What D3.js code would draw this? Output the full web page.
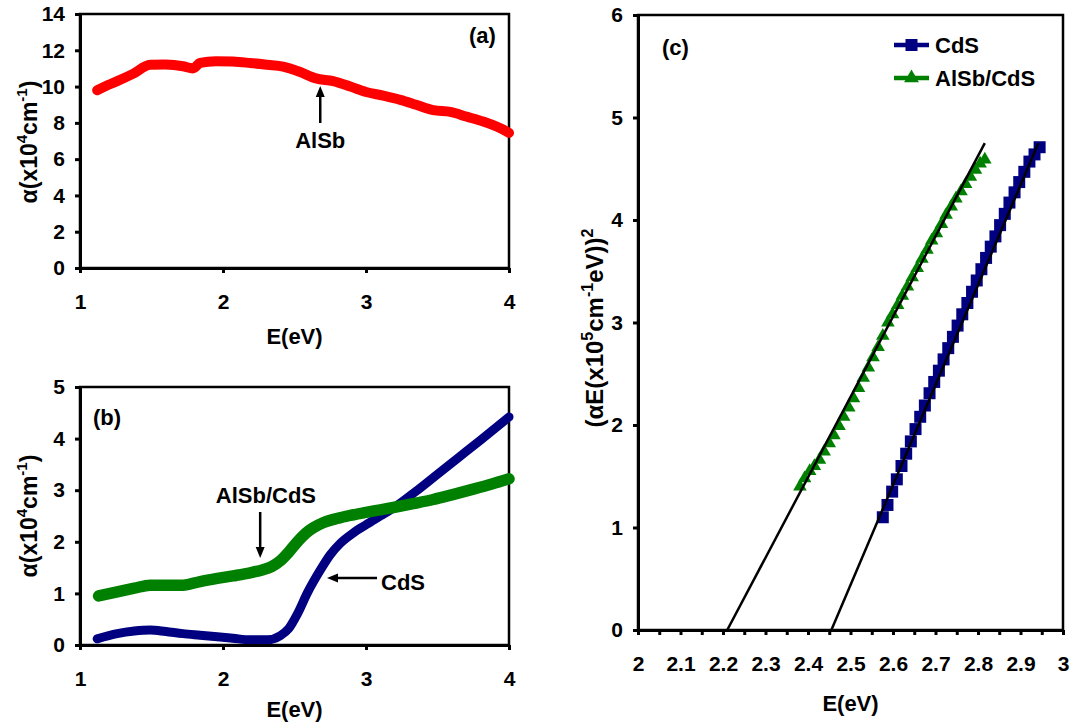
<!DOCTYPE html>
<html>
<head>
<meta charset="utf-8">
<script src="https://cdn.jsdelivr.net/npm/d3@7"></script>
<style>
	body { margin: 0; background: #fff; }
	text { font-family: "Liberation Sans", Arial, sans-serif; font-weight: bold; fill: #000; }
</style>
</head>
<body>
<svg id="chart" width="1070" height="724"></svg>
<script>
// (a) absorption of AlSb
var energyA = [1.12, 1.2, 1.26, 1.37, 1.49, 1.6, 1.72, 1.76, 1.79, 1.84, 1.95, 2.07, 2.19, 2.31, 2.42, 2.54, 2.65, 2.77, 2.89, 3.0, 3.12, 3.24, 3.35, 3.47, 3.59, 3.7, 3.82, 3.94, 4.0];
var alphaAlSb = [9.8, 10.1, 10.3, 10.7, 11.2, 11.22, 11.12, 11.05, 11.0, 11.3, 11.4, 11.38, 11.3, 11.2, 11.1, 10.8, 10.45, 10.3, 10.0, 9.7, 9.5, 9.27, 9.0, 8.7, 8.6, 8.35, 8.07, 7.7, 7.45];

// (b) AlSb/CdS and CdS
var energyB = [1.13, 1.26, 1.38, 1.49, 1.6, 1.72, 1.84, 1.96, 2.07, 2.19, 2.28, 2.34, 2.4, 2.46, 2.52, 2.58, 2.63, 2.7, 2.78, 2.87, 3.0, 3.1, 3.2, 3.33, 3.47, 3.6, 3.75, 3.88, 4.0];
var alphaAlSbCdS = [0.95, 1.03, 1.1, 1.16, 1.16, 1.16, 1.23, 1.29, 1.34, 1.4, 1.46, 1.52, 1.63, 1.8, 2.0, 2.17, 2.27, 2.37, 2.44, 2.5, 2.57, 2.62, 2.67, 2.74, 2.82, 2.91, 3.02, 3.12, 3.22];
var energyCdS = [1.12, 1.26, 1.38, 1.49, 1.6, 1.72, 1.84, 1.96, 2.07, 2.19, 2.31, 2.4, 2.46, 2.52, 2.59, 2.68, 2.75, 2.82, 2.91, 3.0, 3.1, 3.2, 3.35, 3.5, 3.65, 3.8, 4.0];
var alphaCdS = [0.12, 0.22, 0.27, 0.29, 0.26, 0.22, 0.19, 0.16, 0.13, 0.1, 0.1, 0.18, 0.32, 0.6, 1.01, 1.45, 1.75, 1.97, 2.17, 2.33, 2.5, 2.67, 2.98, 3.31, 3.64, 3.97, 4.42];

// (c) Tauc plot
var taucCdSE = [2.576, 2.587, 2.598, 2.609, 2.620, 2.631, 2.642, 2.653, 2.664, 2.675, 2.686, 2.697, 2.708, 2.719, 2.730, 2.741, 2.752, 2.763, 2.775, 2.786, 2.797, 2.808, 2.819, 2.830, 2.841, 2.852, 2.863, 2.874, 2.886, 2.897, 2.909, 2.921, 2.933, 2.945];
var taucCdSY = [1.10, 1.22, 1.35, 1.47, 1.60, 1.72, 1.84, 1.96, 2.08, 2.19, 2.31, 2.42, 2.53, 2.64, 2.75, 2.86, 2.97, 3.08, 3.19, 3.30, 3.41, 3.52, 3.63, 3.74, 3.84, 3.95, 4.06, 4.17, 4.27, 4.37, 4.47, 4.57, 4.64, 4.71];
var taucAlSbCdSE = [2.381, 2.392, 2.404, 2.415, 2.427, 2.438, 2.450, 2.461, 2.473, 2.484, 2.496, 2.507, 2.519, 2.530, 2.542, 2.553, 2.565, 2.576, 2.588, 2.599, 2.611, 2.622, 2.634, 2.645, 2.657, 2.668, 2.680, 2.691, 2.702, 2.714, 2.725, 2.737, 2.748, 2.760, 2.771, 2.782, 2.794, 2.805, 2.816];
var taucAlSbCdSY = [1.40, 1.48, 1.55, 1.60, 1.66, 1.74, 1.82, 1.90, 1.99, 2.08, 2.17, 2.26, 2.36, 2.46, 2.56, 2.66, 2.76, 2.87, 3.00, 3.08, 3.17, 3.26, 3.35, 3.44, 3.53, 3.62, 3.71, 3.80, 3.87, 3.96, 4.05, 4.13, 4.21, 4.28, 4.35, 4.42, 4.49, 4.55, 4.59];
// linear fits, [E, y] end points
var fitCdS = [[2.455, 0], [2.942, 4.75]];
var fitAlSbCdS = [[2.21, 0], [2.816, 4.75]];

var ticksA = [0, 2, 4, 6, 8, 10, 12, 14];
var ticksB = [0, 1, 2, 3, 4, 5];
var ticksC = [0, 1, 2, 3, 4, 5, 6];
var ticksE = [1, 2, 3, 4];
var ticksTauc = [2, 2.1, 2.2, 2.3, 2.4, 2.5, 2.6, 2.7, 2.8, 2.9, 3];
var minorTauc = [2.05, 2.15, 2.25, 2.35, 2.45, 2.55, 2.65, 2.75, 2.85, 2.95];

var RED = '#ff0000', NAVY = '#000080', GREEN = '#008000';

var svg = d3.select('#chart');

function makePanel(box, xDomain, yDomain) {
	var x = d3.scaleLinear().domain(xDomain).range([box.left, box.right]);
	var y = d3.scaleLinear().domain(yDomain).range([box.bottom, box.top]);
	var g = svg.append('g');
	g.append('rect')
		.attr('x', box.left).attr('y', box.top)
		.attr('width', box.right - box.left).attr('height', box.bottom - box.top)
		.attr('fill', 'none').attr('stroke', '#000').attr('stroke-width', 2.5);
	var data = g.append('g');
	return { x: x, y: y, g: g, data: data, box: box };
}

function drawAxes(p, xTicks, yTicks, xFmt) {
	var xa = p.g.append('g')
		.attr('transform', 'translate(0,' + p.box.bottom + ')')
		.call(d3.axisBottom(p.x).tickValues(xTicks).tickFormat(xFmt || d3.format('d'))
			.tickSize(5).tickSizeOuter(0).tickPadding(21));
	var ya = p.g.append('g')
		.attr('transform', 'translate(' + p.box.left + ',0)')
		.call(d3.axisLeft(p.y).tickValues(yTicks).tickFormat(d3.format('d'))
			.tickSize(5).tickSizeOuter(0).tickPadding(10));
	[xa, ya].forEach(function(a) {
		a.select('.domain').attr('stroke', '#000').attr('stroke-width', 3);
		a.selectAll('.tick line').attr('stroke', '#000').attr('stroke-width', 3);
		a.selectAll('.tick text').attr('font-size', 21)
			.style('font-family', '"Liberation Sans", Arial, sans-serif').style('font-weight', 'bold');
	});
	return xa;
}

function thickCurve(p, xs, ys, color, width) {
	var pts = xs.map(function(e, i) { return [e, ys[i]]; });
	p.data.append('path')
		.datum(pts)
		.attr('fill', 'none')
		.attr('stroke', color)
		.attr('stroke-width', width)
		.attr('stroke-linecap', 'round')
		.attr('stroke-linejoin', 'round')
		.attr('d', d3.line()
			.x(function(d) { return p.x(d[0]); })
			.y(function(d) { return p.y(d[1]); })
			.curve(d3.curveMonotoneX));
}

function xTitle(p, yPos) {
	svg.append('text')
		.attr('x', (p.box.left + p.box.right) / 2).attr('y', yPos)
		.attr('text-anchor', 'middle').attr('font-size', 22)
		.text('E(eV)');
}

function yTitle(cx, cy, size, parts) {
	var t = svg.append('text')
		.attr('transform', 'translate(' + cx + ',' + cy + ') rotate(-90)')
		.attr('text-anchor', 'middle').attr('font-size', size);
	parts.forEach(function(s) {
		if (s.sup) {
			t.append('tspan').attr('font-size', Math.round(size * 0.65)).attr('dy', -10).text(s.sup);
		} else {
			t.append('tspan').attr('dy', s.back ? 10 : 0).text(s.t);
		}
	});
}

function arrow(x1, y1, x2, y2) {
	var ang = Math.atan2(y2 - y1, x2 - x1), L = 11, W = 4.5;
	var bx = x2 - L * Math.cos(ang), by = y2 - L * Math.sin(ang);
	svg.append('line')
		.attr('x1', x1).attr('y1', y1).attr('x2', bx).attr('y2', by)
		.attr('stroke', '#000').attr('stroke-width', 2.5);
	svg.append('path')
		.attr('d', 'M' + x2 + ',' + y2 +
			'L' + (bx + W * Math.sin(ang)) + ',' + (by - W * Math.cos(ang)) +
			'L' + (bx - W * Math.sin(ang)) + ',' + (by + W * Math.cos(ang)) + 'Z')
		.attr('fill', '#000');
}

function label(x, y, s, anchor) {
	svg.append('text').attr('x', x).attr('y', y)
		.attr('text-anchor', anchor || 'start').attr('font-size', 22).text(s);
}

// ---------- (a) ----------
var pa = makePanel({ left: 80, right: 509, top: 14, bottom: 268 }, [1, 4], [0, 14]);
thickCurve(pa, energyA, alphaAlSb, RED, 10);
drawAxes(pa, ticksE, ticksA);
xTitle(pa, 344);
yTitle(37, 142, 23, [{ t: 'α(x10' }, { sup: '4' }, { t: 'cm', back: true }, { sup: '-1' }, { t: ')', back: true }]);
label(pa.x(3.72), 43, '(a)');
arrow(pa.x(2.68), 123, pa.x(2.68), 86);
label(pa.x(2.68), 148, 'AlSb', 'middle');

// ---------- (b) ----------
var pb = makePanel({ left: 80, right: 509, top: 387, bottom: 645 }, [1, 4], [0, 5]);
thickCurve(pb, energyCdS, alphaCdS, NAVY, 9);
thickCurve(pb, energyB, alphaAlSbCdS, GREEN, 11.5);
drawAxes(pb, ticksE, ticksB);
xTitle(pb, 717);
yTitle(37, 516, 23, [{ t: 'α(x10' }, { sup: '4' }, { t: 'cm', back: true }, { sup: '-1' }, { t: ')', back: true }]);
label(93, 425, '(b)');
arrow(pb.x(2.26), 512, pb.x(2.26), 558);
label(pb.x(2.3), 503, 'AlSb/CdS', 'middle');
arrow(377, 578, 327, 578);
label(381, 590, 'CdS');

// ---------- (c) ----------
var pc = makePanel({ left: 638, right: 1063, top: 15, bottom: 630 }, [2, 3], [0, 6]);
var sq = d3.symbol().type(d3.symbolSquare).size(144);
var tri = d3.symbol().type(d3.symbolTriangle).size(80);
pc.data.selectAll('path.cds')
	.data(taucCdSE.map(function(e, i) { return [e, taucCdSY[i]]; }))
	.enter().append('path').attr('class', 'cds')
	.attr('d', sq)
	.attr('fill', NAVY)
	.attr('transform', function(d) { return 'translate(' + pc.x(d[0]) + ',' + pc.y(d[1]) + ')'; });
pc.data.selectAll('path.hj')
	.data(taucAlSbCdSE.map(function(e, i) { return [e, taucAlSbCdSY[i]]; }))
	.enter().append('path').attr('class', 'hj')
	.attr('d', tri)
	.attr('fill', GREEN)
	.attr('transform', function(d) { return 'translate(' + pc.x(d[0]) + ',' + pc.y(d[1]) + ')'; });
[fitCdS, fitAlSbCdS].forEach(function(f) {
	pc.data.append('line')
		.attr('x1', pc.x(f[0][0])).attr('y1', pc.y(f[0][1]))
		.attr('x2', pc.x(f[1][0])).attr('y2', pc.y(f[1][1]))
		.attr('stroke', '#000').attr('stroke-width', 2.5);
});
// minor ticks on E axis
pc.g.append('g')
	.attr('transform', 'translate(0,' + pc.box.bottom + ')')
	.call(d3.axisBottom(pc.x).tickValues(minorTauc).tickFormat('').tickSize(5).tickSizeOuter(0))
	.call(function(a) {
		a.select('.domain').remove();
		a.selectAll('.tick line').attr('stroke', '#000').attr('stroke-width', 3);
	});
drawAxes(pc, ticksTauc, ticksC, function(d) { return d3.format('.1f')(d).replace(/\.0$/, ''); });
xTitle(pc, 711);
yTitle(603, 328, 24, [{ t: '(αE(x10' }, { sup: '5' }, { t: 'cm', back: true }, { sup: '-1' }, { t: 'eV))', back: true }, { sup: '2' }]);
label(662, 55, '(c)');

// legend
var legend = [
	{ name: 'CdS', color: NAVY, sym: sq, y: 45 },
	{ name: 'AlSb/CdS', color: GREEN, sym: d3.symbol().type(d3.symbolTriangle).size(95), y: 78 }
];
legend.forEach(function(l) {
	svg.append('line').attr('x1', 894).attr('x2', 929).attr('y1', l.y).attr('y2', l.y)
		.attr('stroke', l.color).attr('stroke-width', 4.5);
	svg.append('path').attr('d', l.sym).attr('fill', l.color)
		.attr('transform', 'translate(911.5,' + l.y + ')');
	label(935, l.y + 8, l.name);
});
</script>
</body>
</html>
